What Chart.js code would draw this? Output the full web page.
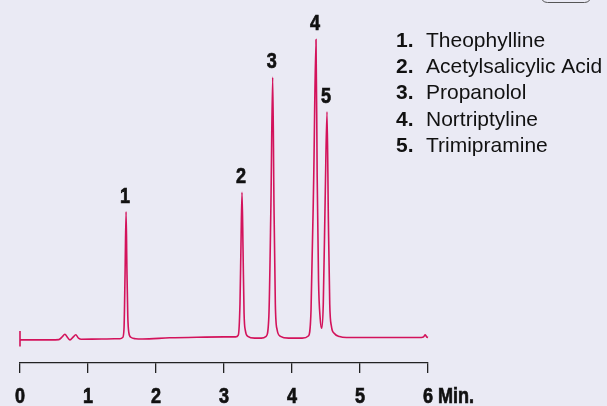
<!DOCTYPE html>
<html>
<head>
<meta charset="utf-8">
<script src="https://cdn.jsdelivr.net/npm/chart.js@4.4.0/dist/chart.umd.min.js"></script>
<style>
  html, body { margin: 0; padding: 0; background: #eaeaf4; }
  #wrap { width: 607px; height: 406px; position: relative; }
</style>
</head>
<body>
<div id="wrap"><canvas id="chrom"></canvas></div>
<script>
// retention time (min) and detector signal
const times = [0.00, 0.30, 0.57, 0.62, 0.66, 0.70, 0.735, 0.78, 0.82, 0.86, 0.90, 1.20, 1.47, 1.51, 1.53, 1.545, 1.56, 1.572, 1.585, 1.60, 1.63, 1.70, 1.80, 2.20, 2.60, 3.00, 3.17, 3.21, 3.235, 3.25, 3.265, 3.28, 3.295, 3.315, 3.35, 3.45, 3.55, 3.62, 3.66, 3.69, 3.716, 3.735, 3.755, 3.78, 3.83, 3.95, 4.15, 4.24, 4.28, 4.32, 4.353, 4.37, 4.39, 4.415, 4.437, 4.46, 4.49, 4.515, 4.535, 4.555, 4.58, 4.62, 4.70, 4.80, 5.30, 5.90, 5.935, 5.96, 5.98, 6.00];
const signal = [0.0, 0.0, 0.1, 1.0, 1.9, 0.8, 0.0, 0.9, 1.7, 0.6, 0.2, 0.3, 0.4, 0.8, 4, 22, 42.7, 24, 8, 2.5, 0.9, 0.4, 0.3, 0.7, 0.9, 1.0, 1.0, 1.6, 12, 32, 49.2, 30, 9, 3, 1.2, 0.6, 0.6, 1.2, 8, 45, 87.6, 45, 12, 3.5, 1.2, 0.6, 0.6, 1.3, 10, 55, 100.2, 55, 20, 7, 3.9, 12, 50, 76.1, 40, 12, 4.5, 2.2, 1.1, 0.8, 0.8, 0.8, 1.0, 1.7, 1.0, 0.8];

// injection mark at t = 0
const injectTimes = [0, 0];
const injectSignal = [3, -2.2];

// peaks
const peakNumbers = ['1', '2', '3', '4', '5'];
const peakTimes = [1.56, 3.265, 3.716, 4.353, 4.515];
const peakHeights = [42.7, 49.2, 87.6, 100.2, 76.1];
const compounds = ['Theophylline', 'Acetylsalicylic Acid', 'Propanolol', 'Nortriptyline', 'Trimipramine'];

const xTicks = [0, 1, 2, 3, 4, 5, 6];
const xUnit = 'Min.';

const lineColor = '#d3135b';
const sans = "'Liberation Sans', Arial, sans-serif";
const boldCond = 'bold 22px ' + sans;

// no narrow font installed, so squeeze bold sans sideways
function condensed(ctx, text, x, y, align) {
  ctx.save();
  ctx.translate(x, y);
  ctx.scale(0.82, 1);
  ctx.font = boldCond;
  ctx.textAlign = align;
  ctx.textBaseline = 'alphabetic';
  ctx.strokeStyle = ctx.fillStyle;
  ctx.lineWidth = 0.7;
  ctx.fillText(text, 0, 0);
  ctx.strokeText(text, 0, 0);
  ctx.restore();
}

const extras = {
  id: 'extras',
  afterDraw(chart) {
    const { ctx, scales: { x, y } } = chart;
    ctx.save();
    ctx.fillStyle = '#111';

    // peak numbers
    peakNumbers.forEach((n, i) => {
      condensed(ctx, n, x.getPixelForValue(peakTimes[i]) - 1, y.getPixelForValue(peakHeights[i]) - 9, 'center');
    });

    // x tick labels and unit
    const labelY = x.top + 40;
    xTicks.forEach(v => condensed(ctx, String(v), x.getPixelForValue(v), labelY, 'center'));
    condensed(ctx, xUnit, x.getPixelForValue(xTicks[xTicks.length - 1]) + 10, labelY, 'left');

    // compound list
    ctx.textAlign = 'left';
    ctx.textBaseline = 'alphabetic';
    compounds.forEach((c, i) => {
      const yy = 47 + i * 26.2;
      ctx.font = 'bold 21px ' + sans;
      ctx.fillText(peakNumbers[i] + '.', 396, yy);
      ctx.font = '21px ' + sans;
      ctx.fillText(c, 426, yy);
    });

    // edge of a box cut off at the top
    ctx.strokeStyle = '#555';
    ctx.lineWidth = 1;
    ctx.beginPath();
    ctx.roundRect(540.5, -20, 51, 22.5, 7);
    ctx.stroke();

    ctx.restore();
  }
};

new Chart(document.getElementById('chrom'), {
  type: 'line',
  data: {
    datasets: [
      {
        data: times.map((t, i) => ({ x: t, y: signal[i] })),
        borderColor: lineColor,
        borderWidth: 1.6,
        pointRadius: 0,
        cubicInterpolationMode: 'monotone',
        clip: false
      },
      {
        data: injectTimes.map((t, i) => ({ x: t, y: injectSignal[i] })),
        borderColor: lineColor,
        borderWidth: 1.6,
        pointRadius: 0,
        tension: 0,
        clip: false
      }
    ]
  },
  options: {
    responsive: true,
    maintainAspectRatio: false,
    animation: false,
    layout: { padding: { left: 20, right: 179, top: 20, bottom: 0 } },
    plugins: { legend: { display: false }, tooltip: { enabled: false } },
    scales: {
      x: {
        type: 'linear',
        min: 0,
        max: 6,
        afterBuildTicks: s => { s.ticks = xTicks.map(v => ({ value: v })); },
        afterFit: s => { s.height = 43; },
        ticks: { display: false },
        grid: { drawOnChartArea: false, tickLength: 10, color: '#222', lineWidth: 1.3 },
        border: { display: true, color: '#222', width: 1.3 }
      },
      y: {
        display: false,
        min: -7.7,
        max: 106.7
      }
    }
  },
  plugins: [extras]
});
</script>
</body>
</html>
